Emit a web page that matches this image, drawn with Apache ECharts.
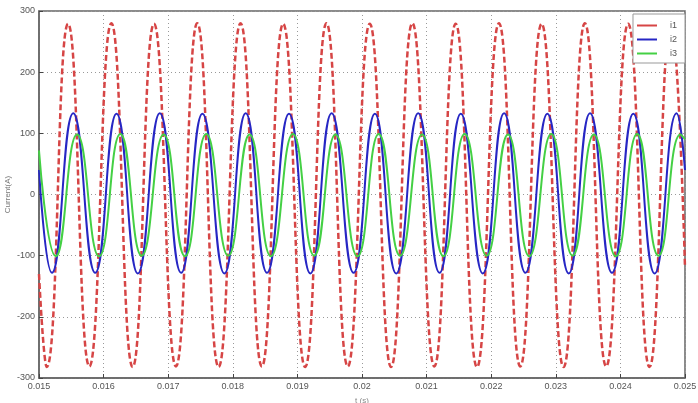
<!DOCTYPE html>
<html>
<head>
<meta charset="utf-8">
<script src="https://cdn.jsdelivr.net/npm/echarts@6/dist/echarts.min.js"></script>
<style>html,body{margin:0;padding:0;background:#fff}#c{width:698px;height:403px}</style>
</head>
<body>
<div id="c"></div>
<script>
// Extreme points (time in s, current in A)
const seriesNames = ['i1', 'i2', 'i3'];
const xTickLabels = ['0.015','0.016','0.017','0.018','0.019','0.02','0.021','0.022','0.023','0.024','0.025'];
const yTickLabels = ['-300','-200','-100','0','100','200','300'];

const t1 = [0.01500,0.01512,0.01545,0.01578,0.01612,0.01645,0.01678,0.01712,0.01745,0.01778,0.01812,0.01845,0.01878,0.01912,0.01945,0.01978,0.02012,0.02045,0.02078,0.02112,0.02145,0.02178,0.02212,0.02245,0.02278,0.02312,0.02345,0.02378,0.02412,0.02445,0.02478,0.02500];
const i1 = [-130,-282,279,-281,280,-282,279,-281,280,-282,280,-281,279,-282,280,-281,279,-282,280,-281,279,-282,280,-281,279,-282,280,-281,279,-282,280,-120];

const t2 = [0.01500,0.01520,0.01553,0.01587,0.01620,0.01653,0.01687,0.01720,0.01753,0.01787,0.01820,0.01853,0.01887,0.01920,0.01953,0.01987,0.02020,0.02053,0.02087,0.02120,0.02153,0.02187,0.02220,0.02253,0.02287,0.02320,0.02353,0.02387,0.02420,0.02453,0.02487,0.02500];
const i2 = [40,-128,133,-128,132,-129,133,-128,132,-129,133,-128,132,-129,133,-128,132,-129,133,-128,132,-129,133,-128,132,-129,133,-128,132,-129,133,40];

const t3 = [0.01500,0.01526,0.01559,0.01593,0.01626,0.01659,0.01693,0.01726,0.01759,0.01793,0.01826,0.01859,0.01893,0.01926,0.01959,0.01993,0.02026,0.02059,0.02093,0.02126,0.02159,0.02193,0.02226,0.02259,0.02293,0.02326,0.02359,0.02393,0.02426,0.02459,0.02493,0.02500];
const i3 = [72,-101,98,-101,99,-100,98,-101,99,-100,98,-101,99,-100,98,-101,99,-100,98,-101,99,-100,98,-101,99,-100,98,-101,99,-100,98,90];

const colors = ['#d64545', '#2626c4', '#44d044'];

function pairs(t, v) { return t.map((x, k) => [x, v[k]]); }

const chart = echarts.init(document.getElementById('c'), null, {renderer: 'canvas'});
const axisText = {color: '#555', fontSize: 9, fontFamily: 'Liberation Sans'};
chart.setOption({
  animation: false,
  backgroundColor: '#fff',
  grid: {left: 39, right: 13, top: 11, bottom: 25, containLabel: false, outerBoundsMode: 'none',
         show: true, borderColor: '#666', borderWidth: 1.5},
  legend: {
    right: 13, top: 14, orient: 'vertical', itemGap: 5, itemWidth: 20, itemHeight: 2,
    backgroundColor: '#fff', borderColor: '#999', borderWidth: 1, padding: [7, 8, 5, 4],
    textStyle: {color: '#555', fontSize: 9, fontFamily: 'Liberation Sans', padding: [0, 0, 0, 8]},
    data: seriesNames.map((n, k) => ({name: n, icon: 'rect', itemStyle: {color: colors[k]}}))
  },
  xAxis: {
    type: 'value', min: 0.015, max: 0.025, interval: 0.001,
    name: 't (s)', nameLocation: 'middle', nameGap: 19, nameMoveOverlap: false,
    nameTextStyle: {color: '#888', fontSize: 8},
    axisLine: {show: true, onZero: false, lineStyle: {color: '#666', width: 1.5}},
    axisTick: {inside: true, length: 4, lineStyle: {color: '#444'}},
    axisLabel: Object.assign({margin: 4, formatter: v => xTickLabels[Math.round((v - 0.015) / 0.001)] || ''}, axisText),
    splitLine: {show: true, lineStyle: {color: '#999', type: [1, 3], width: 1}}
  },
  yAxis: {
    type: 'value', min: -300, max: 300, interval: 100,
    name: 'Current(A)', nameLocation: 'middle', nameGap: 27, nameRotate: 90, nameMoveOverlap: false,
    nameTextStyle: {color: '#777', fontSize: 8},
    axisLine: {show: true, onZero: false, lineStyle: {color: '#666', width: 1.5}},
    axisTick: {inside: true, length: 4, lineStyle: {color: '#444'}},
    axisLabel: Object.assign({margin: 4, formatter: v => yTickLabels[Math.round((v + 300) / 100)] || ''}, axisText),
    splitLine: {show: true, lineStyle: {color: '#999', type: [1, 3], width: 1}}
  },
  series: [
    {name: seriesNames[0], type: 'line', data: pairs(t1, i1), smooth: 0.5, showSymbol: false, z: 3,
     lineStyle: {color: colors[0], width: 2.5, type: [6, 3]}, itemStyle: {color: colors[0]}},
    {name: seriesNames[1], type: 'line', data: pairs(t2, i2), smooth: 0.5, showSymbol: false, z: 4,
     lineStyle: {color: colors[1], width: 2}, itemStyle: {color: colors[1]}},
    {name: seriesNames[2], type: 'line', data: pairs(t3, i3), smooth: 0.5, showSymbol: false, z: 5,
     lineStyle: {color: colors[2], width: 2}, itemStyle: {color: colors[2]}}
  ]
});
</script>
</body>
</html>
